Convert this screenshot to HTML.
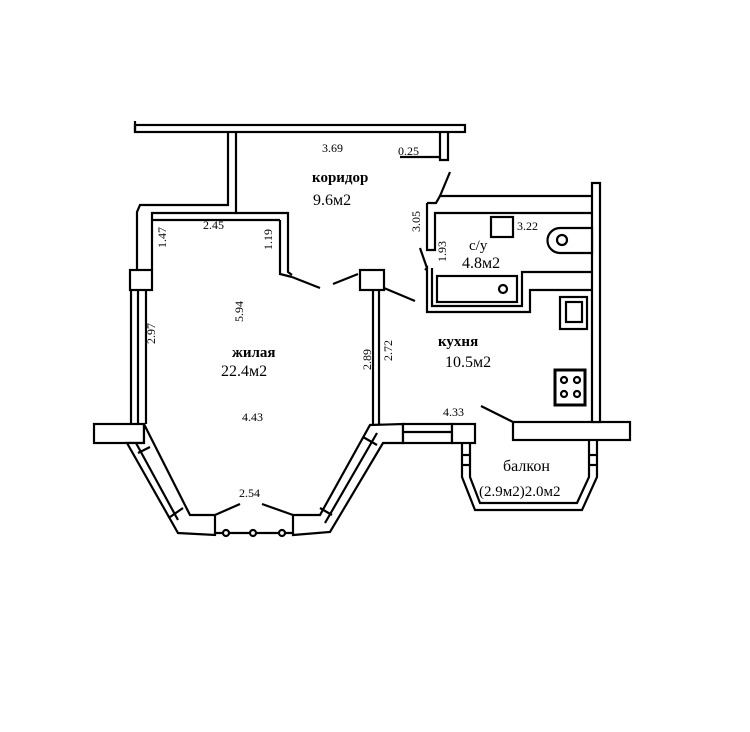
<!DOCTYPE html>
<html><head><meta charset="utf-8"><style>
html,body{margin:0;padding:0;background:#fff;}
svg{display:block}
text{font-family:"Liberation Serif",serif;fill:#000}
</style></head><body>
<svg width="750" height="732" viewBox="0 0 750 732" xmlns="http://www.w3.org/2000/svg">
<g fill="none" stroke="#000" stroke-width="2.2" stroke-linejoin="miter">
<!-- top wall -->
<rect x="135" y="125" width="330" height="7" fill="#fff"/>
<line x1="135" y1="121" x2="135" y2="132"/>
<!-- corridor left wall / living top -->
<polyline points="228,132 228,205 140,205 137,212 137,270"/>
<polyline points="236,132 236,213 152,213 152,270"/>
<!-- partition right of living room top -->
<polyline points="236,213 288,213 288,272 292,275"/>
<polyline points="280,220 280,274 292,277"/>
<line x1="152" y1="220" x2="280" y2="220"/>
<line x1="292" y1="277" x2="320" y2="288"/>
<!-- 0.25 niche -->
<polyline points="440,132 440,160 448,160 448,132"/>
<line x1="400" y1="157" x2="440" y2="157"/>
<!-- left pillar and wall -->
<rect x="130" y="270" width="22" height="20" fill="#fff"/>
<line x1="131" y1="290" x2="131" y2="424"/>
<line x1="138" y1="290" x2="138" y2="424"/>
<line x1="146" y1="290" x2="146" y2="424"/>
<!-- right pillar -->
<rect x="360" y="270" width="24" height="20" fill="#fff"/>
<line x1="333" y1="284" x2="358" y2="274"/>
<line x1="384" y1="288" x2="415" y2="301"/>
<line x1="373" y1="290" x2="373" y2="424"/>
<line x1="379" y1="290" x2="379" y2="424"/>
<!-- bay -->
<rect x="94" y="424" width="50" height="19" fill="#fff"/>
<polygon points="127,443 144,443 144,424 150,436 190,515 215,515 215,535 178,533" fill="#fff"/>
<line x1="136" y1="443" x2="178" y2="520"/>
<line x1="138" y1="453" x2="150" y2="447"/>
<line x1="170" y1="517" x2="183" y2="508"/>
<line x1="215" y1="533" x2="293" y2="533"/>
<circle cx="226" cy="533" r="3" fill="#fff"/>
<circle cx="253" cy="533" r="3" fill="#fff"/>
<circle cx="282" cy="533" r="3" fill="#fff"/>
<polygon points="293,515 320,515 370,425 403,424 403,443 383,443 330,532 293,535" fill="#fff"/>
<line x1="325" y1="523" x2="377" y2="433"/>
<line x1="320" y1="508" x2="332" y2="515"/>
<line x1="363" y1="437" x2="377" y2="445"/>
<line x1="215" y1="515" x2="240" y2="504"/>
<line x1="262" y1="504" x2="293" y2="515"/>
<rect x="403" y="424" width="49" height="19" fill="#fff"/>
<line x1="403" y1="432" x2="452" y2="432"/>
<rect x="452" y="424" width="23" height="19" fill="#fff"/>
<!-- balcony -->
<rect x="513" y="422" width="117" height="18" fill="#fff"/>
<line x1="481" y1="406" x2="513" y2="422"/>
<polyline points="462,443 462,477 475,510 582,510 597,477 597,440"/>
<polyline points="470,443 470,477 480,503 577,503 589,477 589,440"/>
<line x1="462" y1="455" x2="470" y2="455"/><line x1="462" y1="465" x2="470" y2="465"/>
<line x1="589" y1="455" x2="597" y2="455"/><line x1="589" y1="465" x2="597" y2="465"/>
<!-- kitchen right wall -->
<rect x="592" y="183" width="8" height="239" fill="#fff"/>
<!-- bathroom -->
<polyline points="427,203 427,250 435,250 435,213 592,213"/>
<polyline points="427,203 436,203 440,196 592,196"/>
<line x1="440" y1="196" x2="450" y2="172"/>
<rect x="491" y="217" width="22" height="20" fill="#fff"/>
<path d="M560,228 h32 v25 h-32 a12,12 0 0 1 0,-25 z" fill="#fff"/>
<circle cx="562" cy="240" r="5"/>
<polyline points="425,270 427,268 427,312 530,312 530,290 592,290"/>
<polyline points="432,268 432,306 522,306 522,272 592,272"/>
<rect x="437" y="276" width="80" height="26"/>
<circle cx="503" cy="289" r="4"/>
<line x1="420" y1="248" x2="427" y2="268"/>
<!-- kitchen fixtures -->
<rect x="560" y="297" width="27" height="32"/>
<rect x="566" y="302" width="16" height="20"/>
<rect x="555" y="370" width="30" height="35" stroke-width="3"/>
<circle cx="564" cy="380" r="3"/><circle cx="577" cy="380" r="3"/>
<circle cx="564" cy="394" r="3"/><circle cx="577" cy="394" r="3"/>
</g>
<!-- labels -->
<text x="322" y="152" font-size="12">3.69</text>
<text x="398" y="155" font-size="12">0.25</text>
<text x="312" y="182" font-size="15" font-weight="bold">коридор</text>
<text x="313" y="205" font-size="16">9.6м2</text>
<text x="203" y="229" font-size="12">2.45</text>
<text x="517" y="230" font-size="12">3.22</text>
<text x="469" y="250" font-size="15">с/у</text>
<text x="462" y="268" font-size="16">4.8м2</text>
<text x="438" y="346" font-size="15" font-weight="bold">кухня</text>
<text x="445" y="367" font-size="16">10.5м2</text>
<text x="232" y="357" font-size="15" font-weight="bold">жилая</text>
<text x="221" y="376" font-size="16">22.4м2</text>
<text x="242" y="421" font-size="12">4.43</text>
<text x="443" y="416" font-size="12">4.33</text>
<text x="239" y="497" font-size="12">2.54</text>
<text x="503" y="471" font-size="16">балкон</text>
<text x="479" y="496" font-size="15">(2.9м2)2.0м2</text>
<g font-size="12">
<text transform="translate(420,232) rotate(-90)">3.05</text>
<text transform="translate(446,262) rotate(-90)">1.93</text>
<text transform="translate(272,250) rotate(-90)">1.19</text>
<text transform="translate(166,248) rotate(-90)">1.47</text>
<text transform="translate(155,344) rotate(-90)">2.97</text>
<text transform="translate(243,322) rotate(-90)">5.94</text>
<text transform="translate(371,370) rotate(-90)">2.89</text>
<text transform="translate(392,361) rotate(-90)">2.72</text>
</g>
</svg>
</body></html>
